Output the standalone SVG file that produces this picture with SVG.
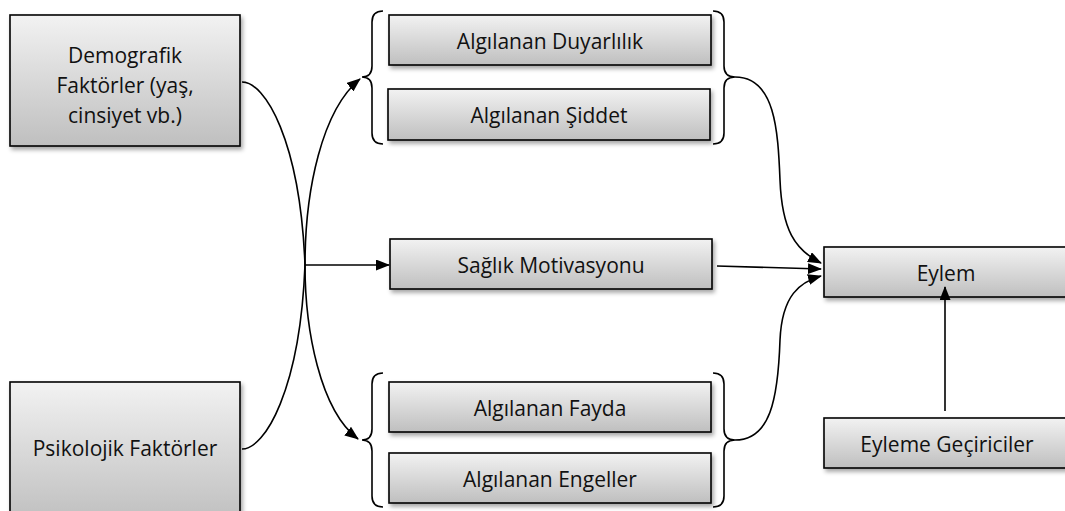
<svg xmlns="http://www.w3.org/2000/svg" width="1065" height="511" viewBox="0 0 1065 511">
<defs>
<linearGradient id="g" x1="0" y1="0" x2="0" y2="1">
<stop offset="0" stop-color="#f2f2f2"/>
<stop offset="1" stop-color="#bfbfbf"/>
</linearGradient>
<filter id="sh" x="-10%" y="-10%" width="125%" height="140%">
<feDropShadow dx="2" dy="3" stdDeviation="2" flood-color="#000" flood-opacity="0.35"/>
</filter>
<marker id="ah" viewBox="0 0 14 11" refX="13" refY="5.5" markerWidth="14" markerHeight="11" markerUnits="userSpaceOnUse" orient="auto">
<path d="M0,0 L14,5.5 L0,11 Z" fill="#000"/>
</marker>
</defs>
<style>
.box{fill:url(#g);stroke:#000;stroke-width:1.6;filter:url(#sh)}
.t{font-family:"Open Sans","Noto Sans",sans-serif;font-size:21px;fill:#111;text-anchor:middle}
.c{fill:none;stroke:#000;stroke-width:1.6}
.br{fill:none;stroke:#000;stroke-width:1.6}
</style>
<rect width="1065" height="511" fill="#fff"/>
<g id="demografik"><rect class="box" x="10" y="15" width="230" height="131"/>
<text class="t" x="125" y="63">Demografik</text>
<text class="t" x="125" y="93">Faktörler (yaş,</text>
<text class="t" x="125" y="123">cinsiyet vb.)</text></g>
<g id="psikolojik"><rect class="box" x="10" y="382" width="230" height="140"/>
<text class="t" x="125" y="456">Psikolojik Faktörler</text></g>
<g id="duyarlilik"><rect class="box" x="389" y="15" width="322" height="50"/>
<text class="t" x="550" y="49">Algılanan Duyarlılık</text></g>
<g id="siddet"><rect class="box" x="388" y="89" width="322" height="51"/>
<text class="t" x="549" y="123">Algılanan Şiddet</text></g>
<g id="motivasyon"><rect class="box" x="390" y="239" width="322" height="50"/>
<text class="t" x="551" y="273">Sağlık Motivasyonu</text></g>
<g id="fayda"><rect class="box" x="389" y="382" width="322" height="50"/>
<text class="t" x="550" y="416">Algılanan Fayda</text></g>
<g id="engeller"><rect class="box" x="389" y="453" width="322" height="50"/>
<text class="t" x="550" y="487">Algılanan Engeller</text></g>
<g id="eylem"><rect class="box" x="824" y="247" width="250" height="50"/>
<text class="t" x="946" y="281">Eylem</text></g>
<g id="geciriciler"><rect class="box" x="824" y="418" width="250" height="50"/>
<text class="t" x="947" y="452">Eyleme Geçiriciler</text></g>
<g id="braces">
<path class="br" d="M383,11 Q372,11 372,22 L372,66 Q372,77 362,77 Q372,77 372,88 L372,133 Q372,144 383,144"/>
<path class="br" d="M713,11 Q724,11 724,22 L724,66 Q724,77 735,77 Q724,77 724,88 L724,133 Q724,144 713,144"/>
<path class="br" d="M383,373 Q372,373 372,384 L372,429 Q372,440 362,440 Q372,440 372,451 L372,496 Q372,507 383,507"/>
<path class="br" d="M713,373 Q724,373 724,384 L724,429 Q724,440 735,440 Q724,440 724,451 L724,496 Q724,507 713,507"/>
</g>
<g id="connectors">
<path class="c" d="M242,82 C265,82 300,140 305,265 C305,330 320,410 358,439" marker-end="url(#ah)"/>
<path class="c" d="M242,449 C265,449 300,390 305,265 C305,190 322,110 360,79" marker-end="url(#ah)"/>
<path class="c" d="M305,265 L389,265" marker-end="url(#ah)"/>
<path class="c" d="M735,77 C775,77 778,130 780,180 C782,230 795,250 821,263" marker-end="url(#ah)"/>
<path class="c" d="M717,266 L821,269" marker-end="url(#ah)"/>
<path class="c" d="M735,440 C770,440 778,400 780,340 C782,295 800,282 821,276" marker-end="url(#ah)"/>
<path class="c" d="M945,411 L945,287" marker-end="url(#ah)"/>
</g>
</svg>
